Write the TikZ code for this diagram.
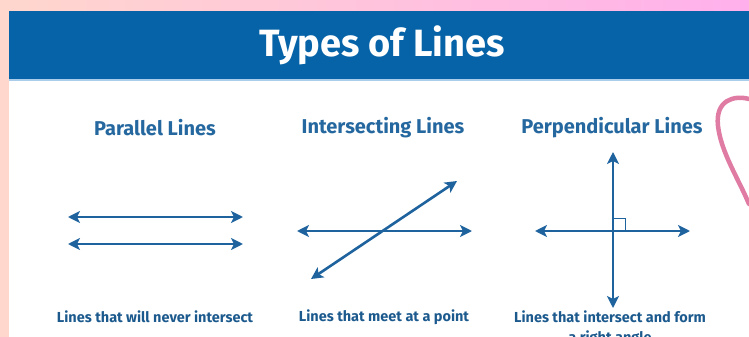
\documentclass[tikz,border=0pt]{standalone}
\usepackage{fontspec}
\setmainfont{Fira Sans}
\newfontfamily\titlefont{Fira Sans}
\newfontfamily\labelfont{Fira Sans}
\usetikzlibrary{arrows.meta}
\begin{document}
\begin{tikzpicture}[x=1pt, y=-1pt]

  % --- Farben ---
  \definecolor{bgleft}{HTML}{FFD7CD}   % Hintergrund links
  \definecolor{bgright}{HTML}{FFB0EC}  % Hintergrund rechts
  \definecolor{band}{HTML}{0663A8}     % Kopfband
  \definecolor{bandline}{HTML}{A9CDEB} % Linie unter dem Band
  \definecolor{ink}{HTML}{1F639E}      % Linien und Pfeile
  \definecolor{headtxt}{HTML}{25689F}  % Ueberschriften
  \definecolor{captxt}{HTML}{1C5A8E}   % Beschreibungen
  \definecolor{scribble}{HTML}{E07CA4} % rosa Kritzel

  % --- Stile ---
  \tikzset{
    gline/.style={ink, line width=2.6pt,
      {Stealth[length=12pt, width=12pt, inset=3pt]}-{Stealth[length=12pt, width=12pt, inset=3pt]}},
    colhead/.style={headtxt, font=\labelfont\bfseries\fontsize{20}{24}\selectfont, inner sep=0pt},
    colcap/.style={captxt, font=\labelfont\bfseries\fontsize{14.5}{20}\selectfont, inner sep=0pt, align=center}
  }

  % --- Hintergrund ---
  \useasboundingbox (0,0) rectangle (749,337);
  \shade[left color=bgleft, right color=bgright] (0,0) rectangle (749,337);
  \fill[white] (9,11) rectangle (749,337);
  \fill[band] (9,11) rectangle (749,79);
  \fill[bandline] (9,79) rectangle (749,81);

  % --- Titel ---
  \node[white, font=\titlefont\bfseries\fontsize{38}{42}\selectfont, inner sep=0pt]
    (title) at (382,45) {Types of Lines};

  % --- Ueberschriften ---
  \node[colhead] (parhead)  at (155,128) {Parallel Lines};
  \node[colhead] (inthead)  at (383,128) {Intersecting Lines};
  \node[colhead] (perphead) at (612,128) {Perpendicular Lines};

  % --- Parallele Linien ---
  \coordinate (parAw) at (68,217);
  \coordinate (parAe) at (243,217);
  \coordinate (parBw) at (68,244);
  \coordinate (parBe) at (243,244);
  \draw[gline] (parAw) -- (parAe);
  \draw[gline] (parBw) -- (parBe);

  % --- Sich schneidende Linien ---
  \coordinate (intw)  at (297,231);
  \coordinate (inte)  at (472,231);
  \coordinate (intsw) at (311,279);
  \coordinate (intne) at (457,181);
  \draw[gline] (intw) -- (inte);
  \draw[gline] (intsw) -- (intne);

  % --- Senkrechte Linien ---
  \coordinate (perpw) at (535,231);
  \coordinate (perpe) at (690,231);
  \coordinate (perpn) at (613,152);
  \coordinate (perps) at (613,308);
  \draw[gline] (perpw) -- (perpe);
  \draw[gline] (perpn) -- (perps);
  \draw[ink, line width=1pt] (613,218.5) -- (625.5,218.5) -- (625.5,231);

  % --- Beschreibungen ---
  \node[colcap] (parcap)  at (155,317) {Lines that will never intersect};
  \node[colcap] (intcap)  at (384,317) {Lines that meet at a point};
  \node[colcap, anchor=north] (perpcap) at (610,311) {Lines that intersect and form\\a right angle};

  % --- Kritzel ---
  \draw[scribble, line width=4.5pt, line cap=round]
    (749,99) .. controls (734,95) and (715,100) .. (718,126)
    .. controls (721,152) and (738,178) .. (749,204);

\end{tikzpicture}
\end{document}
